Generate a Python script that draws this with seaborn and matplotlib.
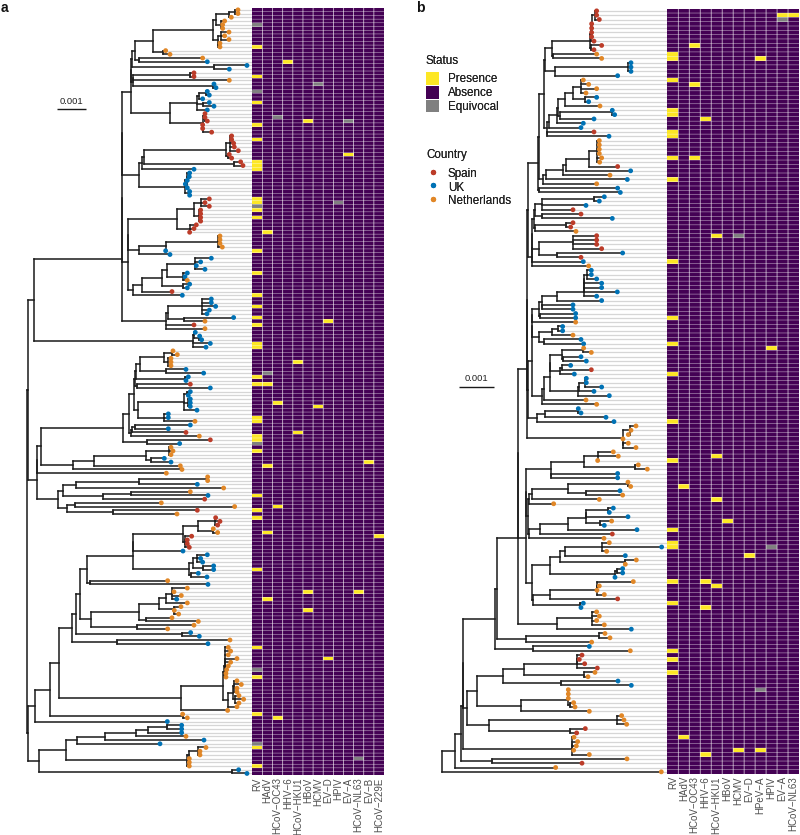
import pandas as pd
import numpy as np
import seaborn as sns
import matplotlib.pyplot as plt
from matplotlib.colors import ListedColormap
from matplotlib.lines import Line2D
from matplotlib.patches import Patch

# Tip depths (1 unit = 1/88 of 0.001 in a, 1/105 of 0.001 in b)
depth_a = [714, 714, 694, 674, 668, 668, 687, 674, 687, 660,
           660, 497, 510, 608, 622, 741, 688, 582, 582, 688,
           642, 648, 622, 628, 608, 628, 642, 622, 615, 615,
           622, 608, 608, 635, 695, 695, 701, 703, 715, 688,
           695, 722, 729, 582, 569, 568, 562, 556, 562, 569,
           569, 628, 615, 628, 602, 602, 602, 602, 589, 582,
           569, 660, 660, 660, 667, 497, 510, 634, 602, 589,
           615, 562, 555, 562, 569, 562, 516, 547, 634, 634,
           647, 628, 621, 701, 615, 582, 615, 586, 599, 605,
           631, 618, 519, 532, 513, 513, 513, 558, 611, 565,
           558, 571, 631, 571, 565, 571, 571, 571, 591, 505,
           505, 585, 571, 505, 558, 598, 631, 539, 513, 519,
           513, 493, 513, 541, 546, 499, 623, 623, 592, 671,
           571, 624, 614, 484, 704, 592, 531, 647, 660, 653,
           640, 653, 575, 562, 562, 568, 549, 622, 602, 608,
           641, 641, 595, 621, 503, 624, 562, 522, 544, 530,
           562, 543, 523, 536, 516, 595, 582, 503, 572, 598,
           690, 624, 685, 692, 685, 711, 692, 685, 680, 678,
           678, 711, 724, 711, 711, 717, 731, 717, 711, 683,
           548, 562, 502, 545, 545, 545, 558, 612, 480, 618,
           600, 600, 568, 568, 568, 716, 741]
country_a = ("NNNNNNNNNN" "NNNNUUUSSN" "UUUUUUUUSS" "SSSSSSSSSS" "SSSUUUUUUU"
             "USSSSSSSSS" "SNNNNUUUUU" "UUUNUUSUUU" "UUUUNSNUUU" "UUNNNNNUUU"
             "USUUUUUUUU" "UNUUSNSUNN" "NUUNNNNNUN" "NUSNNSNSSS" "NNSSSSUUUU"
             "UUUUNUNNNU" "NNNNNNNNUU" "NUNNNNNNNN" "NNNNNNNNNN" "NNUUUUNUUN"
             "NNNNNUU")
tree_a = ("80(85(103(366(366(366(392(394(397(405(458(640(648(687(706(.,.),.),664(.,.,.)),654(662(.,.,.),655(.,.))),490(.,.)),418(.,.)),"
          "642(.,.)),400(400(570(.,.),.),638(.,.))),510(590(597(617(.,.),.),608(.,.),.),608(613(.,616(.,.)),.,608(.,.)))),"
          "418(425(432(677(690(.,.,.,.,.),684(.,.)),703(.,.)),.),555(562(.,.,.,.,.),566(.,.)))),"
          "385(385(530(582(603(.,.,.),598(.,.,.,.)),570(.,.,.)),418(497(655(.,.,.,.),.),.)),398(425(485(502(585(.,.,.,.),548(.,.,.)),550(.,.)),.),.))),"
          "497(505(607(.,.,.,.,.),553(.,.)),.,.)),578(583(.,596(.,.)),.,.)),"
          "110(110(123(368(388(402(405(407(420(492(515(.,.),505(.,.,.)),499(.,.)),555(.,.)),412(.,.)),413(552(560(.,.),565(.,.,.),.),492(.,.,.))),393(397(406(.,.),.),.)),440(.,.)),"
          "218(283(437(508(.,.,.),452(.,.)),.),.)),.),175(190(228(416(621(.,.),.),.),310(392(.,.),.)),202(224(.,.),340(.,.))))),"
          "85(104(150(177(215(228(240(262(398(398(548(595(645(.,.,.),640(.,.)),555(.,.,.,.)),.),568(580(592(.,.,.),610(.,.)),572(.,.))),270(.,.)),"
          "272(418(478(497(517(.,.,.,.),.),522(.,522(.,.))),437(.,.)),411(.,.))),545(.,.)),352(.,.)),"
          "542(670(673(675(676(.,.,.,.,.,.,.),.),.),685(700(703(.,.,.,.),705(.,.,.)),.)),.)),548(.,.)),.),"
          "118(197(230(315(408(445(500(.,.),.),.),.),.),560(567(593(.,.,.),.),.,.)),695(.,.))))")

depth_b = [590, 590, 598, 575, 575, 575, 575, 582, 605, 582,
           590, 605, 693, 693, 693, 653, 550, 566, 590, 558,
           590, 566, 600, 637, 644, 582, 550, 543, 582, 627,
           598, 598, 598, 598, 605, 599, 653, 692, 630, 682,
           590, 653, 661, 613, 598, 558, 519, 543, 637, 519,
           512, 528, 590, 590, 590, 605, 668, 543, 550, 566,
           574, 574, 590, 605, 605, 652, 590, 605, 519, 519,
           527, 527, 527, 488, 488, 519, 543, 551, 551, 574,
           543, 559, 512, 574, 523, 559, 559, 605, 582, 628,
           558, 590, 535, 543, 618, 642, 708, 693, 685, 669,
           685, 708, 640, 655, 593, 715, 742, 653, 653, 684,
           692, 660, 668, 598, 461, 640, 628, 684, 635, 613,
           711, 637, 612, 628, 785, 620, 676, 709, 676, 668,
           668, 645, 700, 598, 591, 613, 653, 550, 543, 590,
           598, 590, 613, 694, 615, 630, 575, 568, 691, 546,
           538, 554, 592, 585, 564, 654, 694, 505, 505, 505,
           521, 525, 568, 665, 672, 680, 556, 530, 522, 533,
           529, 521, 568, 681, 546, 467, 784]
country_b = ("SSSSSSSSSS" "NNUUUUNNNN" "UUNUUUUUSU" "NNNNNNSUNU" "NUUUUUSSUS"
             "SNSSSSUSUN" "UUUUUUUUUU" "UUNUUNUUNN" "UUUSUUUUUU" "NNUUUUNNNN"
             "NNNNNNNUUN" "NUNNNUUUNU" "USNNUNUNNU" "UUNNNNSUUN" "NNNUNNNUNS"
             "SSSNNUUNNN" "NNNNNNSSNN" "NNNNSNN")
tree_b = ("125(164(183(190(190(285(292(355(355(380(382(385("
          "415(416(432(434(457(570(572(575(585(.,.,.),.,.,.,.),.),572(.,.)),458(.,.)),464(685(.,.,.),.)),"
          "440(447(472(473(495(520(543(.,.,.,.),556(.,.)),.),481(636(.,.),.)),.),.),441(.,.))),"
          "428(437(490(497(567(590(.,.,.,.,.,.),.),.),.),.),.)),418(.,.)),"
          "395(396(397(403(404(425(583(.,.),.,.),425(.,.)),404(497(.,.),.)),417(520(.,.,.,.),472(.,.))),.),.)),"
          "384(395(396(397(418(425(472(551(551(551(551(560(.,.,.),.),.),.),.),.),426(.,.)),420(.,.)),.),418(457(475(.,.),.),433(.,.))),"
          "425(432(450(451(487(550(.,.),488(.,.)),481(485(.,.),.)),535(536(556(.,.,.),.),.)),.),.)),410(435(535(.,.),.),.))),"
          "668(690(.,.,.),.,670(.,.))),"
          "378(378(452(553(593(.,.,.),705(.,.)),453(.,.)),385(386(395(505(685(.,.),558(.,.)),.),.),386(420(505(558(559(625(.,.),.),600(.,.)),.),.),.))),"
          "395(450(480(495(607(.,.,.),.),675(.,.)),645(650(.,.),.)),398(450(590(591(.,.,.),.),.),540(.,.))))),"
          "472(575(.,.,.,.),.)),378(598(.,.),.)),400(.,.)),"
          "200(232(310(373(530(530(.,.,.),.),553(.,.)),482(.,.)),363(505(505(505(.,.),.),510(.,.)),.)),268(650(.,.,.),510(.,.)))),"
          "515(515(.,.,.,.),.)),275(.,.)),.),.)")

# Heatmap columns and the rows that are not absence
pathogens_a = ["RV", "HAdV", "HCoV\u2212OC43", "HHV\u22126", "HCoV\u2212HKU1", "HBoV", "HCMV", "EV\u2212D",
               "HPIV", "EV\u2212A", "HCoV\u2212NL63", "EV\u2212B", "HCoV\u2212229E"]
presence_a = {
    "RV": [10, 18, 25, 31, 35, 41, 42, 43, 51, 52, 54, 56, 65, 71, 77, 80, 83, 85, 90, 91, 99, 101,
           110, 111, 115, 116, 119, 131, 135, 137, 151, 172, 180, 190, 199, 204],
    "HAdV": [60, 101, 123, 141, 159],
    "HCoV\u2212OC43": [106, 134, 191],
    "HHV\u22126": [14],
    "HCoV\u2212HKU1": [95, 114],
    "HBoV": [30, 157, 162],
    "HCMV": [107],
    "EV\u2212D": [84, 175],
    "EV\u2212A": [39],
    "HCoV\u2212NL63": [157],
    "EV\u2212B": [122],
    "HCoV\u2212229E": [142],
}
equivocal_a = {
    "RV": [4, 22, 53, 117, 178, 198],
    "HAdV": [98],
    "HCoV\u2212OC43": [29],
    "HCMV": [20],
    "HPIV": [52],
    "EV\u2212A": [30],
    "HCoV\u2212NL63": [202],
}

pathogens_b = ["RV", "HAdV", "HCoV\u2212OC43", "HHV\u22126", "HCoV\u2212HKU1", "HBoV", "HCMV", "EV\u2212D",
               "HPeV\u2212A", "HPIV", "EV\u2212A", "HCoV\u2212NL63"]
presence_b = {
    "RV": [10, 11, 16, 23, 24, 28, 29, 34, 39, 58, 71, 77, 84, 95, 104, 120, 123, 124, 132, 137, 148, 150, 153],
    "HAdV": [110, 168],
    "HCoV\u2212OC43": [8, 17, 34],
    "HHV\u22126": [25, 132, 138, 172],
    "HCoV\u2212HKU1": [52, 103, 113, 133],
    "HBoV": [118],
    "HCMV": [171],
    "EV\u2212D": [126],
    "HPeV\u2212A": [11, 171],
    "HPIV": [78],
    "EV\u2212A": [1],
    "HCoV\u2212NL63": [1],
}
equivocal_b = {
    "HCMV": [52],
    "HPeV\u2212A": [157],
    "HPIV": [124],
    "EV\u2212A": [2],
}

country_names = {"S": "Spain", "U": "UK", "N": "Netherlands"}
country_colors = {"Spain": "#BC3C29", "UK": "#0072B5", "Netherlands": "#E18727"}
status_colors = ["#440154", "#FDE725", "#808080"]  # absence, presence, equivocal
status_names = ["Presence", "Absence", "Equivocal"]

W, H = 800, 835
sns.set_style("white")
plt.rcParams["font.family"] = ["Liberation Sans", "DejaVu Sans"]


def parse_tree(text):
    # "depth(child,child)" with "." for the next tip; returns nested [depth, children]
    pos = 0

    def node():
        nonlocal pos
        if text[pos] == ".":
            pos += 1
            return None
        start = pos
        while text[pos].isdigit():
            pos += 1
        depth = int(text[start:pos])
        pos += 1  # (
        kids = [node()]
        while text[pos] == ",":
            pos += 1
            kids.append(node())
        pos += 1  # )
        return [depth, kids]

    return node()


def tree_segments(root, depths):
    # walks the tree; a node sits halfway between first and last child
    hseg, vseg = [], []
    next_tip = [0]

    def walk(nd):
        if nd is None:
            r = next_tip[0]
            next_tip[0] += 1
            return depths[r], r + 0.5
        depth, kids = nd
        placed = [walk(k) for k in kids]
        ys = [p[1] for p in placed]
        vseg.append((depth, ys[0], ys[-1]))
        for kx, ky in placed:
            hseg.append((ky, depth, kx))
        return depth, (ys[0] + ys[-1]) / 2

    walk(root)
    assert next_tip[0] == len(depths)
    return hseg, vseg


def ax_px(fig, left, top, right, bottom):
    return fig.add_axes([left / W, 1 - bottom / H, (right - left) / W, (bottom - top) / H])


def draw_tree(ax, text, depths, countries, per_001, right_units, bar_row, bar_start):
    n = len(depths)
    assert len(countries) == n
    unit = 0.001 / per_001
    tips = pd.DataFrame({"x": np.array(depths) * unit,
                         "row": np.arange(n) + 0.5,
                         "country": [country_names[c] for c in countries]})
    xmax = right_units * unit
    ax.hlines(tips["row"], tips["x"], xmax, color="#D6D6D6", lw=0.9, zorder=1)
    hseg, vseg = tree_segments(parse_tree(text), depths)
    h = np.array(hseg, dtype=float)
    v = np.array(vseg, dtype=float)
    ax.hlines(h[:, 0], h[:, 1] * unit, h[:, 2] * unit, color="#1A1A1A", lw=1.1, zorder=2, capstyle="projecting")
    ax.vlines(v[:, 0] * unit, v[:, 1], v[:, 2], color="#1A1A1A", lw=1.1, zorder=2, capstyle="projecting")
    sns.scatterplot(data=tips, x="x", y="row", hue="country", palette=country_colors, s=12,
                    linewidth=0, legend=False, ax=ax, zorder=3, clip_on=False)
    ax.set_xlim(0, xmax)
    ax.set_ylim(n, 0)
    ax.axis("off")
    # scale bar
    x0 = bar_start * unit
    ax.plot([x0, x0 + 0.001], [bar_row, bar_row], color="#1A1A1A", lw=1.0, solid_capstyle="butt")
    ax.annotate("0.001", (x0 + 0.0005, bar_row), xytext=(0, 2.6), textcoords="offset points",
                ha="center", va="bottom", fontsize=6.8, color="#222222")


def draw_status(ax, pathogens, presence, equivocal, n):
    table = pd.DataFrame(0, index=range(n), columns=pathogens)
    for name, rows in presence.items():
        table.loc[rows, name] = 1
    for name, rows in equivocal.items():
        table.loc[rows, name] = 2
    sns.heatmap(table, ax=ax, cmap=ListedColormap(status_colors), vmin=0, vmax=2, cbar=False,
                linewidths=0, yticklabels=False, xticklabels=True)
    # thin grid drawn apart from the mesh so it stays antialiased, not snapped to whole pixels
    ax.hlines(np.arange(1, n), 0, len(pathogens), color="white", lw=0.3, snap=False, alpha=0.85)
    ax.vlines(np.arange(1, len(pathogens)), 0, n, color="white", lw=0.5, snap=False, alpha=0.85)
    ax.set_ylabel("")
    ax.tick_params(axis="x", length=0, pad=1.5, rotation=90, labelsize=7.0, labelcolor="#4D4D4D")
    for lab in ax.get_xticklabels():
        lab.set_va("top")


def add_legend(fig, handles, labels, title, top):
    leg = fig.legend(handles, labels, title=title, loc="upper left",
                     bbox_to_anchor=(426 / W, 1 - top / H), frameon=False, alignment="left",
                     fontsize=8.4, title_fontsize=8.4, handlelength=1.15, handleheight=1.3,
                     handletextpad=0.72, labelspacing=0.04, borderpad=0, borderaxespad=0)
    leg.get_title().set_color("#222222")
    leg._legend_box.sep = 4
    for txt in leg.get_texts():
        txt.set_color("#222222")
    fig.add_artist(leg)
    return leg


fig = plt.figure(figsize=(W / 100, H / 100), dpi=100)

# panel a
draw_tree(ax_px(fig, 0, 8, 252.3, 775.3), tree_a, depth_a, country_a, 88, 757, 27.3, 170)
draw_status(ax_px(fig, 252.3, 8, 384, 775.3), pathogens_a, presence_a, equivocal_a, len(depth_a))

# panel b
draw_tree(ax_px(fig, 400, 8.7, 667.3, 774), tree_b, depth_b, country_b, 105, 802, 87.4, 178)
draw_status(ax_px(fig, 667.3, 8.7, 799, 774), pathogens_b, presence_b, equivocal_b, len(depth_b))

fig.text(1 / W, 1 - 8 / H, "a", fontsize=10, fontweight="bold", va="center", ha="left", color="#111111")
fig.text(416 / W, 1 - 8 / H, "b", fontsize=10, fontweight="bold", va="center", ha="left", color="#111111")

# legends
status_order = [status_colors[1], status_colors[0], status_colors[2]]
add_legend(fig, [Patch(facecolor=c, edgecolor="none") for c in status_order], status_names, "Status", 54.5)
add_legend(fig, [Line2D([], [], ls="none", marker="o", ms=3.8, mec="none", mfc=country_colors[c])
                 for c in country_colors], list(country_colors), "Country", 149)

fig.savefig("out.png", dpi=100)
